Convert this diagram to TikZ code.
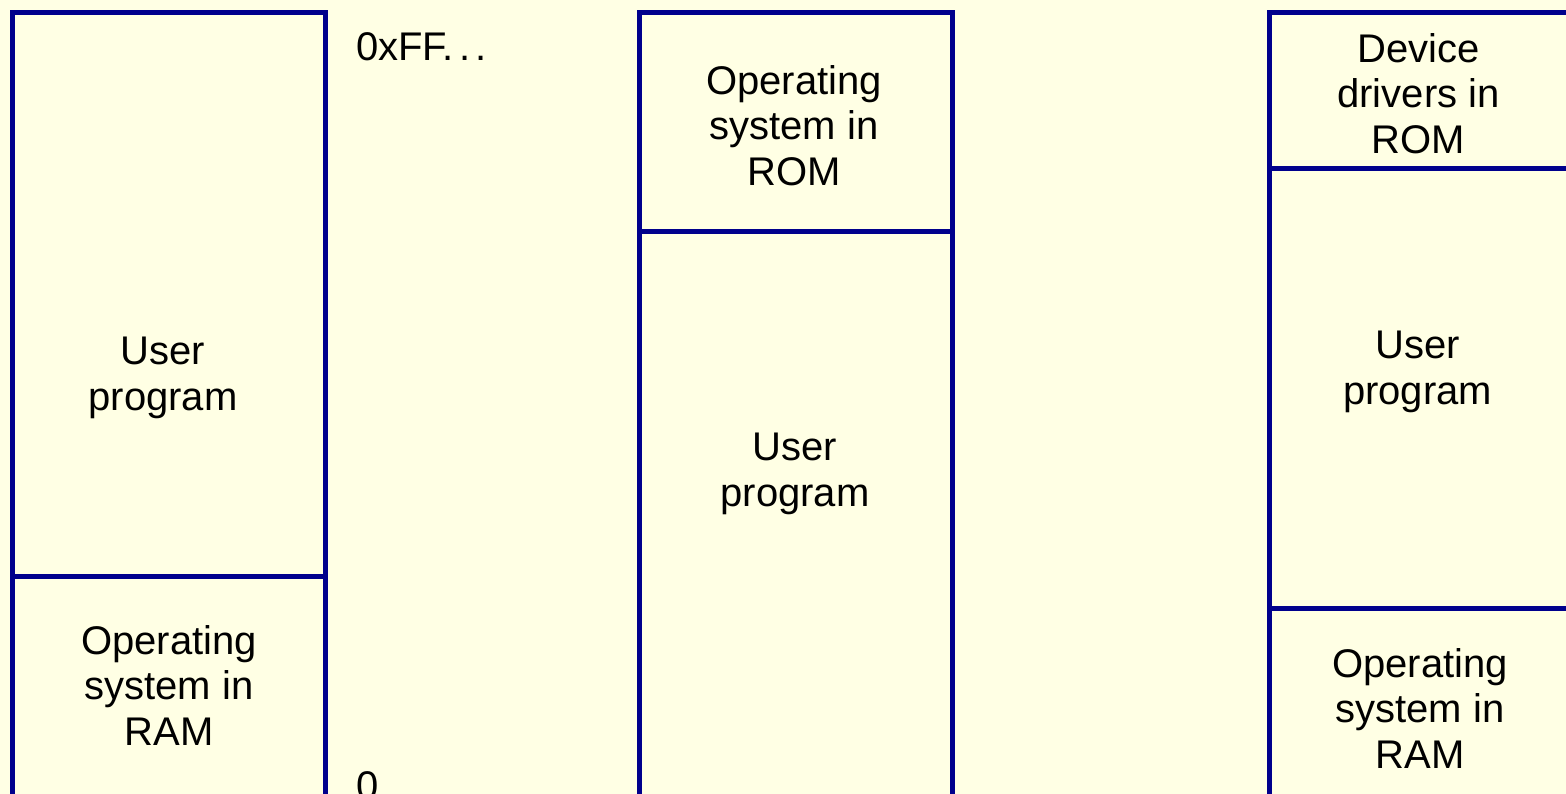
\documentclass[tikz,border=0pt]{standalone}
\usepackage{fontspec}
\setmainfont{Liberation Sans}
\usepackage{xcolor}
\definecolor{memblue}{RGB}{0,0,140}
\definecolor{memback}{RGB}{255,255,228}
\tikzset{
  region/.style={draw=memblue, line width=5pt},
  lbl/.style={align=center, inner sep=0pt, anchor=north, font=\fontsize{40}{45.5}\selectfont},
  addr/.style={inner sep=0pt, anchor=north west, font=\fontsize{40}{45.5}\selectfont}
}
\begin{document}
\begin{tikzpicture}[x=1pt, y=-1pt]
\path[use as bounding box, fill=memback] (0,0) rectangle (1566,794);

\draw[region] (12.5,13) rectangle (325.5,576);
\draw[region] (12.5,576) rectangle (325.5,820);
\node[lbl] (userA) at (163,337) {User\\program};
\node[lbl] (osramA) at (169,625) {Operating\\system in\\RAM};
\node[addr] (top) at (356,32) {0xFF.\kern5pt.\kern5pt.};
\node[addr] (bottom) at (356,771) {0};

\draw[region] (639.5,13) rectangle (952.5,231.5);
\draw[region] (639.5,231.5) rectangle (952.5,820);
\node[lbl] (osromB) at (794,65) {Operating\\system in\\ROM};
\node[lbl] (userB) at (795,433) {User\\program};

\draw[region] (1269.5,13) rectangle (1568,169);
\draw[region] (1269.5,169) rectangle (1568,608);
\draw[region] (1269.5,608) rectangle (1568,820);
\node[lbl] (drvC) at (1418.5,33) {Device\\drivers in\\ROM};
\node[lbl] (userC) at (1417.5,331) {User\\program};
\node[lbl] (osramC) at (1420,648) {Operating\\system in\\RAM};
\end{tikzpicture}
\end{document}
